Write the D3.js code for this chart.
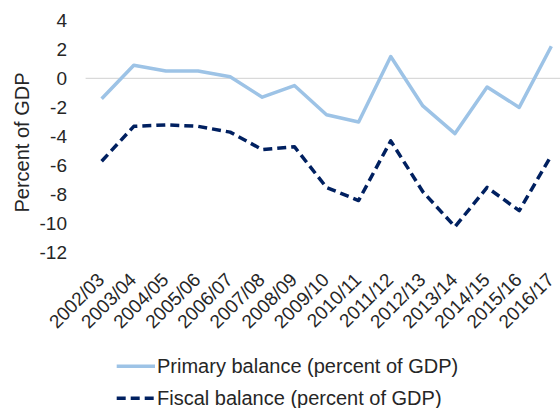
<!DOCTYPE html>
<html>
<head>
<meta charset="utf-8">
<script src="https://cdn.jsdelivr.net/npm/d3@7"></script>
<style>
  body { margin: 0; background: #fff; }
  text { font-family: "Liberation Sans", Arial, sans-serif; fill: #262626; }
</style>
</head>
<body>
<div id="my_dataviz"></div>
<script>
// data
var years = ["2002/03", "2003/04", "2004/05", "2005/06", "2006/07", "2007/08", "2008/09",
             "2009/10", "2010/11", "2011/12", "2012/13", "2013/14", "2014/15", "2015/16", "2016/17"];
var primary = [-1.4, 0.9, 0.5, 0.5, 0.1, -1.3, -0.5, -2.5, -3.0, 1.5, -1.9, -3.8, -0.6, -2.0, 2.2];
var fiscal = [-5.7, -3.3, -3.2, -3.3, -3.7, -4.9, -4.7, -7.5, -8.4, -4.3, -7.8, -10.2, -7.5, -9.1, -5.3];
var yTicks = [-12, -10, -8, -6, -4, -2, 0, 2, 4];
var seriesNames = ["Primary balance (percent of GDP)", "Fiscal balance (percent of GDP)"];

var width = 560, height = 408;

var svg = d3.select("#my_dataviz")
  .append("svg")
    .attr("width", width)
    .attr("height", height);

// plot runs a little past the right edge, like the cropped original
var x = d3.scalePoint()
  .domain(years)
  .range([85.6, 567.4])
  .padding(0.5);

var y = d3.scaleLinear()
  .domain([-12, 4])
  .range([252.9, 20.1]);

// zero line only
svg.append("line")
  .attr("x1", 85.6)
  .attr("x2", 567.4)
  .attr("y1", y(0))
  .attr("y2", y(0))
  .attr("stroke", "#d9d9d9")
  .attr("stroke-width", 1.2);

// Y axis labels (plain hyphen for minus, as in the original)
var yAxis = svg.append("g")
  .attr("transform", "translate(67,0)")
  .call(d3.axisLeft(y).tickValues(yTicks).tickSize(0).tickPadding(0)
    .tickFormat(function(d) { return String(d); }));
yAxis.select(".domain").remove();
yAxis.selectAll("text")
  .style("font-size", "19px")
  .style("font-family", "'Liberation Sans', Arial, sans-serif")
  .attr("fill", "#262626");

// X axis labels, slanted
var xAxis = svg.append("g")
  .attr("transform", "translate(0," + y(-12) + ")")
  .call(d3.axisBottom(x).tickSize(0));
xAxis.select(".domain").remove();
xAxis.selectAll("text")
  .attr("x", 0)
  .attr("y", 0)
  .attr("dy", 0)
  .attr("text-anchor", "end")
  .attr("transform", "translate(3.3,28) rotate(-45)")
  .style("font-size", "19px")
  .style("font-family", "'Liberation Sans', Arial, sans-serif")
  .attr("fill", "#262626");

// axis title
svg.append("text")
  .attr("transform", "translate(29,142.5) rotate(-90)")
  .attr("text-anchor", "middle")
  .style("font-size", "20px")
  .text("Percent of GDP");

var line = d3.line()
  .x(function(d, i) { return x(years[i]); })
  .y(function(d) { return y(d); });

// Add the lines
svg.append("path")
  .datum(primary)
  .attr("fill", "none")
  .attr("stroke", "#9dc3e6")
  .attr("stroke-width", 3.5)
  .attr("stroke-linejoin", "round")
  .attr("d", line);

svg.append("path")
  .datum(fiscal)
  .attr("fill", "none")
  .attr("stroke", "#002060")
  .attr("stroke-width", 3.5)
  .attr("stroke-dasharray", "9,5")
  .attr("stroke-linejoin", "round")
  .attr("d", line);

// legend
var legend = svg.append("g");
var styles = [
  { color: "#9dc3e6", dash: null },
  { color: "#002060", dash: "9,5" }
];
seriesNames.forEach(function(name, i) {
  var ly = 366.2 + i * 32;
  legend.append("line")
    .attr("x1", 116.7)
    .attr("x2", 155)
    .attr("y1", ly)
    .attr("y2", ly)
    .attr("stroke", styles[i].color)
    .attr("stroke-width", 3.5)
    .attr("stroke-dasharray", styles[i].dash);
  legend.append("text")
    .attr("x", 157)
    .attr("y", ly + 6.8)
    .style("font-size", "20px")
    .text(name);
});
</script>
</body>
</html>
